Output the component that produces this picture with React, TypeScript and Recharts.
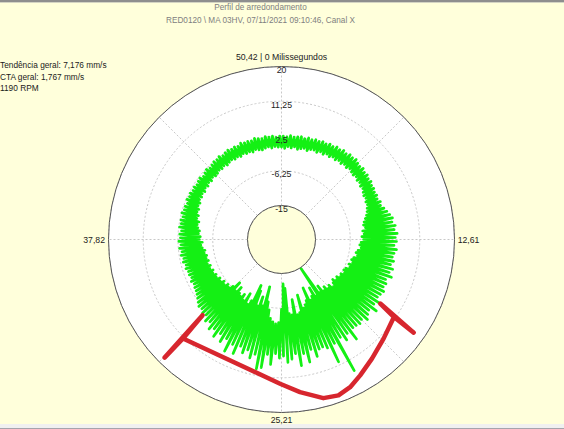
import { RadarChart, Radar, PolarGrid, PolarAngleAxis, PolarRadiusAxis } from 'recharts';

const PERIOD_MS = 50.42;
const RADIUS_TICKS = [-15, -6.25, 2.5, 11.25, 20];
const ANGLE_TICKS = [0, 12.605, 25.21, 37.815];
const ANGLE_LABELS = ['50,42 | 0 Milissegundos', '12,61', '25,21', '37,82'];
const GRID_ANGLES = [90, 45, 0, -45, -90, -135, -180, -225];

// lower / upper swing of the trace, one pair per 2 degrees (mm/s)
const RING_LO = [
  -0.3, -0.6, -0.1, -0.4, 0.0, -0.5, -0.2, 0.1, -0.3, 0.2,
  0.4, 0.1, 0.6, 0.3, 0.8, 0.5, 0.9, 0.6, 1.0, 0.7,
  1.1, 0.8, 1.2, 0.9, 0.7, 1.0, 0.6, 0.8, 0.4, 0.6,
  0.2, -0.1, 0.1, -0.3, -0.2, -0.6, -0.9, -1.3, -1.8, -2.3,
  -2.6, -2.2, -3.0, -2.7, -3.3, -2.9, -3.5, -3.8, -3.4, -4.1,
  -4.5, -4.0, -4.8, -5.2, -4.7, -5.5, -5.0, -5.8, -6.1, -5.6,
  -6.3, -6.0, -6.8, -6.4, -7.2, -6.6, -5.9, -7.0, -6.5, -7.6,
  -6.8, -8.7, -7.1, -14.7, -6.9, -9.5, -7.4, -6.6, -10.2, -7.0,
  -6.1, -5.4, -9.0, -4.6, -4.2, -8.2, -4.4, -4.8, -11.2, -12.4,
  -6.0, -2.6, -2.3, -2.7, -3.5, -5.6, -7.5, -11.3, -6.2, -8.4,
  -5.8, -9.6, -10.9, -6.4, -5.2, -7.8, -5.5, -6.9, -5.9, -6.4,
  -7.8, -6.2, -8.4, -6.6, -5.6, -6.0, -5.2, -5.7, -4.9, -5.3,
  -4.6, -4.9, -4.3, -4.7, -4.1, -4.5, -3.9, -4.4, -4.0, -4.3,
  -3.8, -4.1, -3.5, -3.2, -3.6, -2.9, -3.1, -2.6, -2.8, -2.3,
  -2.0, -2.3, -1.6, -1.8, -1.2, -1.4, -0.9, -1.1, -0.6, -0.8,
  -0.5, -0.8, -0.4, -0.7, -0.3, -0.6, -0.2, -0.5, -0.4, -0.1,
  -0.3, 0.0, -0.4, -0.1, 0.1, -0.2, 0.0, -0.3, 0.1, -0.2,
  -0.1, -0.4, 0.0, -0.3, -0.5, -0.2, 0.0, -0.4, -0.1, -0.3,
];

const RING_HI = [
  2.5, 2.3, 2.7, 2.4, 2.6, 2.8, 2.5, 2.9, 2.7, 3.0,
  2.9, 3.2, 3.0, 3.4, 3.2, 3.6, 3.4, 3.8, 3.5, 3.9,
  3.7, 4.0, 3.6, 3.4, 3.7, 3.3, 3.5, 3.1, 3.3, 2.9,
  3.0, 2.7, 2.9, 2.6, 3.1, 2.8, 3.4, 3.9, 4.4, 4.9,
  4.6, 5.3, 4.9, 5.6, 5.1, 5.4, 4.8, 5.5, 5.0, 4.7,
  5.2, 4.6, 5.4, 4.8, 5.7, 4.5, 5.0, 4.7, 5.3, 4.9,
  4.6, 5.6, 4.8, 6.3, 4.7, 5.2, 6.0, 4.9, 5.4, 5.1,
  5.0, 7.8, 5.3, 6.6, 5.2, 14.2, 5.8, 10.4, 6.1, 5.4,
  5.6, 7.2, 5.1, 8.1, 5.7, 8.6, 5.4, 6.7, 7.4, 5.8,
  6.3, 5.2, 8.0, 5.6, 9.1, 9.6, 6.1, 7.3, 5.5, 6.6,
  5.2, 7.6, 5.6, 8.0, 5.0, 6.4, 4.7, 6.2, 4.6, 5.4,
  3.9, 4.5, 3.3, 3.6, 3.0, 3.2, 2.7, 2.2, 1.8, 1.5,
  1.4, 1.1, 1.5, 1.0, 1.3, 1.2, 1.6, 1.3, 1.8, 1.5,
  2.0, 1.7, 2.2, 1.8, 2.3, 1.9, 2.1, 1.7, 2.3, 2.0,
  2.2, 1.9, 2.4, 2.0, 2.1, 1.8, 2.3, 2.0, 2.2, 1.9,
  2.1, 1.8, 2.0, 2.2, 1.7, 2.0, 2.3, 1.9, 2.1, 2.4,
  2.3, 2.6, 2.2, 2.5, 2.7, 2.4, 2.6, 2.3, 2.8, 2.5,
  2.6, 2.4, 2.8, 2.5, 2.3, 2.7, 2.4, 2.6, 2.2, 2.5,
];

// hand-drawn red bracket (ms, mm/s): left cap, curve, right cap, then back along the curve
const MARK_T = [
  31.47, 31.68, 31.49, 25.29, 24.24, 23.14, 22.4, 21.72, 21.0, 20.0, 18.79, 17.45,
  17.22, 17.53, 17.45, 18.79, 20.0, 21.0, 21.72, 22.4, 23.14, 24.24, 25.29, 31.49,
];
const MARK_V = [
  18.28, 3.99, 11.61, 12.75, 15.15, 17.75, 18.23, 17.45, 15.98, 14.11, 12.27, 10.84,
  6.08, 17.15, 10.84, 12.27, 14.11, 15.98, 17.45, 18.23, 17.75, 15.15, 12.75, 11.61,
];

const W = 564;
const H = 429;
const CX = 281.5;
const CY = 239.5;
const OUTER = 173;
const INNER = 34;
const BG = '#ffffdb';
const FONT = '"Liberation Sans", Arial, sans-serif';

const step = PERIOD_MS / RING_LO.length;
const ringData = RING_LO.flatMap((lo, i) => [
  { t: i * step, g: lo },
  { t: (i + 0.5) * step, g: RING_HI[i] },
]);
ringData.push({ t: PERIOD_MS, g: RING_LO[0] });
const markData = MARK_T.map((t, i) => ({ t, m: MARK_V[i] }));

const fmt = (v: number) => String(v).replace('.', ',');

function RadiusTick({ x, y, payload }: any) {
  return (
    <text x={x} y={y + 3.7} textAnchor="middle" dominantBaseline="central" fontSize={8.7} fill="#222" fontFamily={FONT}>
      {fmt(payload.value)}
    </text>
  );
}

function AngleTick({ x, y, payload }: any) {
  const i = ANGLE_TICKS.indexOf(payload.value);
  const pos = [
    { dx: 0, dy: -8.5, anchor: 'middle' },
    { dx: 2.2, dy: 0, anchor: 'start' },
    { dx: 0, dy: 6.5, anchor: 'middle' },
    { dx: -2.5, dy: 0, anchor: 'end' },
  ][i] ?? { dx: 0, dy: 0, anchor: 'middle' };
  return (
    <text
      x={x + pos.dx}
      y={y + pos.dy}
      textAnchor={pos.anchor}
      dominantBaseline="central"
      fontSize={8.7}
      fill="#222"
      fontFamily={FONT}
    >
      {ANGLE_LABELS[i]}
    </text>
  );
}

const layer = { position: 'absolute' as const, left: 0, top: 0 };
const chartGeom = {
  width: W,
  height: H,
  cx: CX,
  cy: CY,
  innerRadius: INNER,
  outerRadius: OUTER,
  startAngle: 90,
  endAngle: -270,
  margin: { top: 0, right: 0, bottom: 0, left: 0 },
};

export default function App() {
  return (
    <div style={{ ...layer, width: W, height: H, background: BG, overflow: 'hidden', fontFamily: FONT }}>
      <div style={{ ...layer, width: W, height: 2, background: '#8e8e8e' }} />
      <div style={{ ...layer, top: 2, width: W, height: 1, background: '#d4d4c4' }} />
      <div style={{ ...layer, top: 424, width: W, height: 4, background: '#f0f0f0' }} />
      <div style={{ ...layer, top: 428, width: W, height: 1, background: '#a4a4ac' }} />

      <div style={{ ...layer, top: 1, width: 521, textAlign: 'center', fontSize: 8.2, lineHeight: '13px', color: '#808080' }}>
        Perfil de arredondamento
        <br />
        RED0120 \ MA 03HV, 07/11/2021 09:10:46, Canal X
      </div>

      <div style={{ ...layer, left: 0, top: 60, fontSize: 8.3, lineHeight: '11.5px', color: '#1a1a1a', whiteSpace: 'nowrap' }}>
        Tendência geral: 7,176 mm/s
        <br />
        CTA geral: 1,767 mm/s
        <br />
        1190 RPM
      </div>

      <svg width={W} height={H} style={layer}>
        <circle cx={CX} cy={CY} r={OUTER} fill="#ffffff" />
        <circle cx={CX} cy={CY} r={INNER} fill={BG} />
      </svg>

      <div style={layer}>
        <RadarChart {...chartGeom} data={ringData}>
          <PolarGrid gridType="circle" polarAngles={GRID_ANGLES} stroke="#c8c8c8" strokeDasharray="2 2" />
          <PolarAngleAxis
            dataKey="t"
            type="number"
            domain={[0, PERIOD_MS]}
            ticks={ANGLE_TICKS}
            tick={<AngleTick />}
            tickLine={false}
            tickSize={1}
            axisLineType="circle"
            axisLine={{ stroke: '#555555', strokeWidth: 1 }}
          />
          <PolarRadiusAxis
            angle={90}
            type="number"
            domain={[-15, 20]}
            ticks={RADIUS_TICKS}
            tick={<RadiusTick />}
            axisLine={false}
            tickLine={false}
          />
          <Radar
            dataKey="g"
            stroke="#14f014"
            strokeWidth={2.7}
            strokeLinejoin="round"
            fill="none"
            fillOpacity={0}
            isAnimationActive={false}
          />
        </RadarChart>
      </div>

      <div style={layer}>
        <RadarChart {...chartGeom} data={markData}>
          <PolarAngleAxis dataKey="t" type="number" domain={[0, PERIOD_MS]} tick={false} tickLine={false} axisLine={false} />
          <PolarRadiusAxis angle={90} type="number" domain={[-15, 20]} tick={false} tickLine={false} axisLine={false} />
          <Radar
            dataKey="m"
            stroke="#d7262e"
            strokeWidth={4.5}
            strokeLinecap="round"
            strokeLinejoin="round"
            fill="none"
            fillOpacity={0}
            isAnimationActive={false}
          />
        </RadarChart>
      </div>

      <svg width={W} height={H} style={{ ...layer, pointerEvents: 'none' }}>
        <circle cx={CX} cy={CY} r={INNER} fill="none" stroke="#555555" strokeWidth={1} />
      </svg>
    </div>
  );
}
